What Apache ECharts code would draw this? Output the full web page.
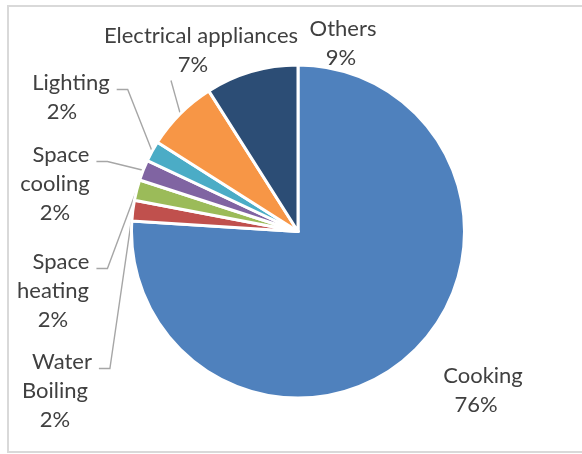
<!DOCTYPE html>
<html>
<head>
<meta charset="utf-8">
<script src="https://cdn.jsdelivr.net/npm/echarts@6/dist/echarts.min.js"></script>
<style>
  html, body { margin: 0; padding: 0; background: #ffffff; }
  #chart { width: 582px; height: 454px; }
</style>
</head>
<body>
<div id="chart"></div>
<script>
// Household energy use by end purpose (share of total, %)
const categories = ['Cooking', 'Water Boiling', 'Space heating', 'Space cooling', 'Lighting', 'Electrical appliances', 'Others'];
const shares = [76, 2, 2, 2, 2, 7, 9];

// How each category name wraps in its label
const wrappedNames = ['Cooking', 'Water\nBoiling', 'Space\nheating', 'Space\ncooling', 'Lighting', 'Electrical appliances', 'Others'];

const sliceColors = ['#4F81BD', '#C0504D', '#9BBB59', '#8064A2', '#4BACC6', '#F79646', '#2C4D75'];

const FONT = 'Lato';
const FONT_SIZE = 22;
const LINE_H = 29;
const TEXT_COLOR = '#404040';
const LEADER_COLOR = '#A6A6A6';

// Label placement: x = centre of the lower lines, y = centre of the first line,
// shift = extra offset of the first line, lead = leader line style
const labelSpots = [
  { x: 476, y: 376, shift: 7, lead: 'none' },
  { x: 55,  y: 362, shift: 7, lead: 'elbow' },
  { x: 53,  y: 262, shift: 8, lead: 'elbow' },
  { x: 55,  y: 155, shift: 6, lead: 'elbow' },
  { x: 62,  y: 83,  shift: 9, lead: 'elbow' },
  { x: 193, y: 36,  shift: 8, lead: 'straight' },
  { x: 341, y: 29,  shift: 2, lead: 'none' }
];

const measureCtx = document.createElement('canvas').getContext('2d');
measureCtx.font = FONT_SIZE + 'px ' + FONT;
function textWidth(s) { return measureCtx.measureText(s).width; }

const pieData = categories.map(function (name, i) {
  const spot = labelSpots[i];
  return {
    name: name,
    value: shares[i],
    itemStyle: { color: sliceColors[i] },
    label: { rich: { h: { padding: [0, 0, 0, spot.shift * 2] } } },
    labelLine: { show: spot.lead !== 'none' }
  };
});

const chart = echarts.init(document.getElementById('chart'), null, { renderer: 'canvas' });

chart.setOption({
  animation: false,
  backgroundColor: '#ffffff',
  graphic: [{
    type: 'rect',
    silent: true,
    shape: { x: 8, y: 6, width: 620, height: 446 },
    style: { fill: 'none', stroke: '#D9D9D9', lineWidth: 2 }
  }],
  series: [{
    type: 'pie',
    center: [298, 231.5],
    radius: 166.5,
    startAngle: 90,
    clockwise: true,
    percentPrecision: 0,
    avoidLabelOverlap: false,
    silent: true,
    emphasis: { disabled: true },
    itemStyle: { borderColor: '#ffffff', borderWidth: 3 },
    label: {
      show: true,
      position: 'outside',
      color: TEXT_COLOR,
      fontFamily: FONT,
      fontSize: FONT_SIZE,
      lineHeight: LINE_H,
      formatter: function (p) {
        const lines = wrappedNames[p.dataIndex].split('\n');
        let s = '{h|' + lines[0] + '}';
        for (let k = 1; k < lines.length; k++) s += '\n{b|' + lines[k] + '}';
        s += '\n{b|' + Math.round(p.percent) + '%}';
        return s;
      },
      rich: {
        h: { color: TEXT_COLOR, fontFamily: FONT, fontSize: FONT_SIZE, lineHeight: LINE_H },
        b: { color: TEXT_COLOR, fontFamily: FONT, fontSize: FONT_SIZE, lineHeight: LINE_H }
      }
    },
    labelLine: {
      show: true,
      lineStyle: { color: LEADER_COLOR, width: 1.4 }
    },
    labelLayout: function (p) {
      const i = p.dataIndex;
      const spot = labelSpots[i];
      const lines = wrappedNames[i].split('\n');
      const nLines = lines.length + 1;
      const top = spot.y - LINE_H / 2;
      const out = { x: spot.x, y: top, align: 'center', verticalAlign: 'top' };
      const pts = p.labelLinePoints;
      if (pts && pts.length && spot.lead !== 'none') {
        const a = pts[0];
        if (spot.lead === 'elbow') {
          const endX = spot.x + spot.shift + textWidth(lines[0]) / 2 + 7;
          const yy = spot.y + 6.5;
          out.labelLinePoints = [a, [endX + 11, yy], [endX, yy]];
        } else {
          const bx = spot.x - 22;
          const by = top + LINE_H * nLines + 1;
          out.labelLinePoints = [a, [(a[0] + bx) / 2, (a[1] + by) / 2], [bx, by]];
        }
      }
      return out;
    },
    data: pieData
  }]
});
</script>
</body>
</html>
